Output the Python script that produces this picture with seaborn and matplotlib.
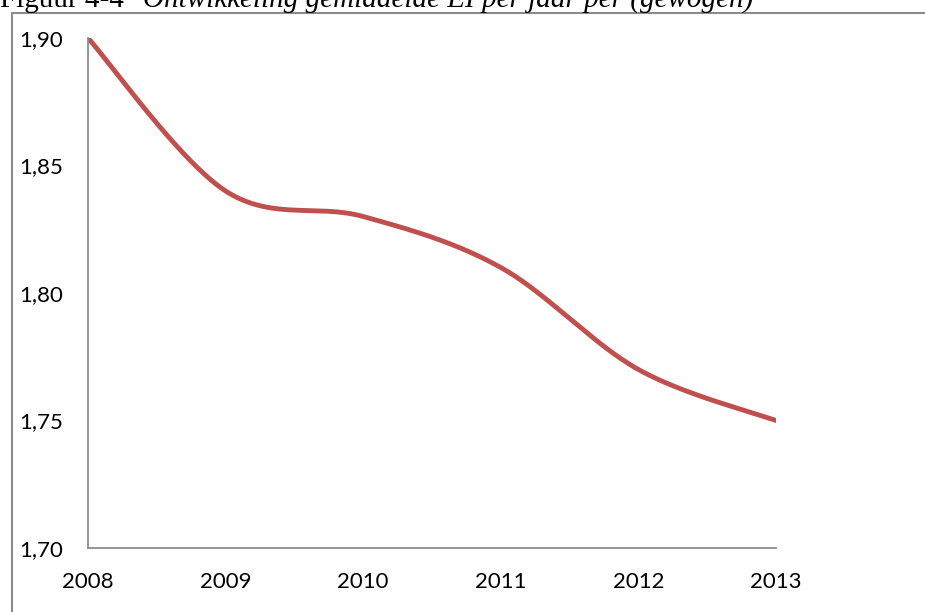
import numpy as np
import pandas as pd
import matplotlib
matplotlib.use("Agg")
import matplotlib.pyplot as plt
from matplotlib.lines import Line2D
import seaborn as sns

years = [2008, 2009, 2010, 2011, 2012, 2013]
values = [1.90, 1.84, 1.83, 1.81, 1.77, 1.75]
y_ticks = [1.70, 1.75, 1.80, 1.85, 1.90]
title_plain = "Figuur 4-4 "
title_italic = "Ontwikkeling gemiddelde EI per jaar per (gewogen)"


def smooth(xv, yv, n=40):
    # Excel-style smoothed line (Catmull-Rom through the data points)
    p = np.column_stack([xv, yv]).astype(float)
    p = np.vstack([p[0], p, p[-1]])
    out = []
    for i in range(1, len(p) - 2):
        p0, p1, p2, p3 = p[i - 1], p[i], p[i + 1], p[i + 2]
        c1 = p1 + (p2 - p0) / 6.0
        c2 = p2 - (p3 - p1) / 6.0
        t = np.linspace(0, 1, n)[:, None]
        seg = ((1 - t) ** 3) * p1 + 3 * ((1 - t) ** 2) * t * c1 + 3 * (1 - t) * t ** 2 * c2 + t ** 3 * p2
        out.append(seg if i == 1 else seg[1:])
    s = np.vstack(out)
    return s[:, 0], s[:, 1]


sns.set_theme(style="white")
plt.rcParams["font.family"] = ["Lato", "DejaVu Sans"]

fig = plt.figure(figsize=(9.25, 6.12), dpi=100)
ax = fig.add_axes([88 / 925, 1 - 548 / 612, (776 - 88) / 925, (548 - 38) / 612])

sx, sy = smooth(years, values)
df = pd.DataFrame({"Jaar": sx, "EI": sy})
sns.lineplot(data=df, x="Jaar", y="EI", ax=ax, sort=False, color="#C0504D",
             linewidth=3.5, solid_capstyle="round")

ax.set_xlim(years[0], years[-1])
ax.set_ylim(y_ticks[0], y_ticks[-1])
ax.set_xticks(years)
ax.set_xticklabels([str(y) for y in years])
ax.set_yticks(y_ticks)
ax.set_yticklabels([f"{v:.2f}".replace(".", ",") for v in y_ticks])
ax.set_xlabel("")
ax.set_ylabel("")
ax.grid(False)

for side in ["top", "right"]:
    ax.spines[side].set_visible(False)
for side in ["left", "bottom"]:
    ax.spines[side].set_color("#8C8C8C")
    ax.spines[side].set_linewidth(1.3)

ax.tick_params(axis="both", which="major", direction="out", length=6, width=1.3,
               color="#8C8C8C", labelsize=16, labelcolor="black")
ax.tick_params(axis="y", pad=12)
ax.tick_params(axis="x", pad=11)
ax.set_facecolor("white")

# outer chart frame (left and top edges visible)
fig.add_artist(Line2D([12 / 925, 12 / 925], [0, 1 - 13 / 612], transform=fig.transFigure,
                      color="#8C8C8C", linewidth=1.5))
fig.add_artist(Line2D([12 / 925, 1], [1 - 13 / 612, 1 - 13 / 612], transform=fig.transFigure,
                      color="#8C8C8C", linewidth=1.5))

# caption cut at top
fig.text(0.0, 1 - 7 / 612, title_plain, family="Liberation Serif", fontsize=21,
         ha="left", va="baseline", color="black")
fig.text(143 / 925, 1 - 7 / 612, title_italic, family="Liberation Serif", style="italic",
         fontsize=21, ha="left", va="baseline", color="black")

fig.savefig("out.png", dpi=100, facecolor="white")
